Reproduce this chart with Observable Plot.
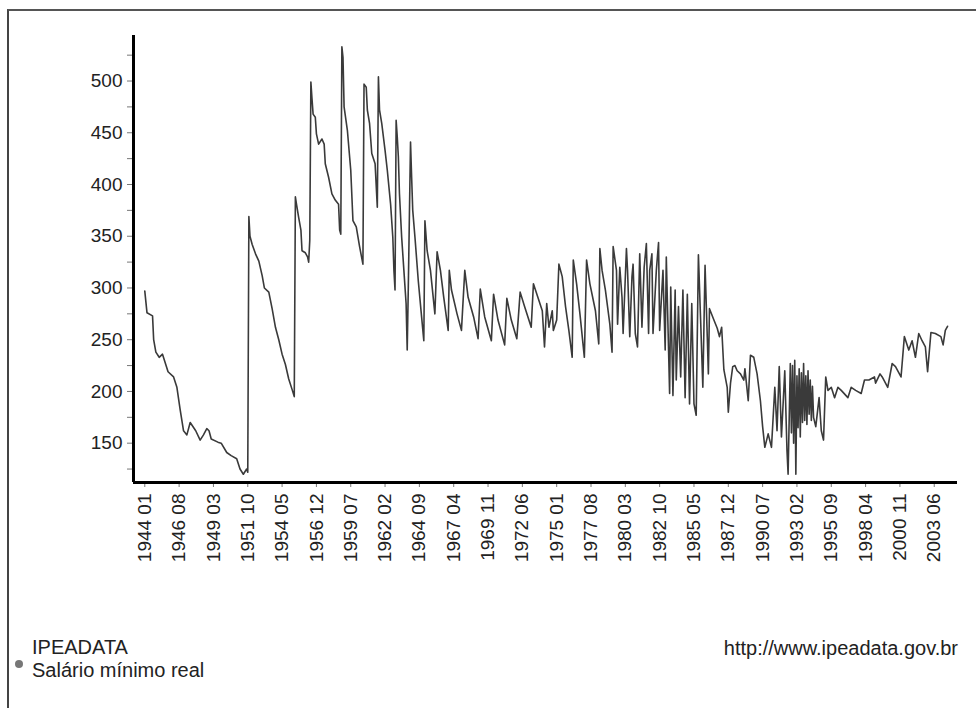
<!DOCTYPE html>
<html>
<head>
<meta charset="utf-8">
<script src="https://cdn.jsdelivr.net/npm/d3@7"></script>
<script src="https://cdn.jsdelivr.net/npm/@observablehq/plot@0.6"></script>
<style>
  body { margin: 0; background: #fff; font-family: "Liberation Sans", Arial, sans-serif; }
  #wrap { position: relative; width: 976px; height: 708px; overflow: hidden; background: #fff; }
  #frame { position: absolute; left: 7px; top: 9px; width: 990px; height: 730px;
           border-top: 2px solid #555; border-left: 2px solid #444; pointer-events: none; }
  .t { position: absolute; font-size: 20px; line-height: 20px; color: #222; white-space: nowrap; }
  #dot { position: absolute; left: 15px; top: 660px; width: 8px; height: 8px; border-radius: 50%; background: #777; }
  g[aria-label="x-axis tick"], g[aria-label="y-axis tick"] { stroke: #777; }
</style>
</head>
<body>
<div id="wrap">
  <div id="chart"></div>
  <div id="frame"></div>
  <div class="t" id="src" style="left:32px;top:637px"></div>
  <div id="dot"></div>
  <div class="t" id="series" style="left:32px;top:660px"></div>
  <div class="t" id="url" style="right:18px;top:638px"></div>
</div>
<script>
const sourceName = "IPEADATA";
const seriesName = "Salário mínimo real";
const sourceUrl = "http://www.ipeadata.gov.br";

const tickLabels = ["1944 01","1946 08","1949 03","1951 10","1954 05","1956 12","1959 07","1962 02",
  "1964 09","1967 04","1969 11","1972 06","1975 01","1977 08","1980 03","1982 10","1985 05",
  "1987 12","1990 07","1993 02","1995 09","1998 04","2000 11","2003 06"];
const yTicks = [125,150,175,200,225,250,275,300,325,350,375,400,425,450,475,500,525];
const yLabelled = [150,200,250,300,350,400,450,500];

const dates = [
"1944-01","1944-03","1944-08","1944-09","1944-11","1945-02","1945-05","1945-10","1946-03","1946-06",
"1946-09","1946-12","1947-03","1947-06","1947-11","1948-03","1948-06","1948-09","1948-11","1949-01",
"1949-07","1949-10","1950-03","1950-07","1950-12","1951-03","1951-06","1951-09","1951-10","1951-11",
"1951-12","1952-02","1952-05","1952-08","1952-11","1953-01","1953-05","1953-08","1953-11","1954-02",
"1954-05","1954-08","1954-11","1955-02","1955-04","1955-05","1955-06","1955-08","1955-10","1955-11",
"1956-02","1956-04","1956-05","1956-06","1956-07","1956-08","1956-09","1956-11","1956-12","1957-02",
"1957-05","1957-07","1957-08","1957-11","1958-02","1958-05","1958-08","1958-09","1958-10","1958-11",
"1958-12","1959-01","1959-04","1959-07","1959-09","1959-12","1960-03","1960-06","1960-07","1960-09",
"1960-10","1960-12","1961-02","1961-05","1961-07","1961-08","1961-09","1961-11","1962-02","1962-04",
"1962-07","1962-09","1962-10","1962-11","1962-12","1963-01","1963-02","1963-03","1963-05","1963-07",
"1963-09","1963-10","1963-11","1964-01","1964-02","1964-03","1964-05","1964-08","1964-11","1965-01",
"1965-02","1965-04","1965-07","1965-11","1966-01","1966-04","1966-07","1966-11","1966-12","1967-02",
"1967-07","1967-11","1968-02","1968-05","1968-10","1969-02","1969-04","1969-08","1970-02","1970-04",
"1970-08","1971-02","1971-04","1971-08","1972-01","1972-04","1972-08","1973-02","1973-04","1973-08",
"1973-12","1974-02","1974-04","1974-06","1974-09","1974-10","1975-01","1975-03","1975-06","1975-09",
"1975-12","1976-03","1976-04","1976-07","1976-10","1977-02","1977-04","1977-07","1977-12","1978-03",
"1978-04","1978-06","1978-09","1979-01","1979-03","1979-04","1979-07","1979-08","1979-10","1979-12",
"1980-01","1980-04","1980-05","1980-07","1980-09","1980-10","1980-12","1981-02","1981-04","1981-06",
"1981-08","1981-10","1981-12","1982-01","1982-03","1982-04","1982-07","1982-09","1982-10","1983-01",
"1983-03","1983-04","1983-07","1983-08","1983-10","1983-12","1984-01","1984-03","1984-05","1984-07",
"1984-09","1984-11","1985-01","1985-03","1985-05","1985-07","1985-09","1985-11","1986-01","1986-03",
"1986-05","1986-06","1986-07","1986-11","1987-02","1987-04","1987-06","1987-08","1987-11","1987-12",
"1988-02","1988-04","1988-06","1988-08","1988-11","1989-02","1989-03","1989-06","1989-08","1989-11",
"1990-02","1990-05","1990-07","1990-09","1990-12","1991-03","1991-06","1991-08","1991-10","1991-12",
"1992-03","1992-05","1992-06","1992-08","1992-09","1992-10","1992-11","1992-12","1993-01","1993-02",
"1993-03","1993-04","1993-05","1993-06","1993-07","1993-08","1993-09","1993-10","1993-11","1993-12",
"1994-01","1994-02","1994-03","1994-04","1994-05","1994-07","1994-10","1994-12","1995-02","1995-04",
"1995-06","1995-09","1995-12","1996-03","1996-06","1996-12","1997-03","1997-07","1997-12","1998-03",
"1998-07","1998-12","1999-01","1999-05","1999-07","1999-12","2000-04","2000-07","2000-12","2001-03",
"2001-07","2001-10","2002-01","2002-04","2002-07","2002-10","2002-12","2003-03","2003-07","2003-12",
"2004-02","2004-04","2004-06"];

const values = [
297,276,273,250,238,233,236,219,214,204,
182,162,158,170,162,153,158,164,162,154,
151,150,141,138,135,125,120,125,122,369,
350,342,333,326,312,300,296,280,262,250,
236,226,212,202,195,388,381,368,356,336,
334,330,325,346,499,483,468,465,449,439,
444,439,420,407,391,385,381,356,352,533,
523,475,452,414,365,359,340,323,497,494,
472,459,430,420,378,504,472,459,433,414,
381,349,317,298,462,446,427,391,349,317,
285,240,301,441,407,375,349,307,272,249,
365,336,317,275,335,317,291,259,317,298,
275,259,317,291,272,251,299,272,249,294,
269,245,290,269,251,296,282,262,304,291,
278,243,285,262,278,259,269,323,311,282,
259,233,327,304,275,233,327,304,278,246,
338,317,298,265,238,340,317,265,320,291,
256,338,317,253,311,323,256,243,333,262,
320,343,256,317,333,256,317,344,259,317,
240,330,198,301,196,298,211,282,214,298,
194,294,188,285,188,177,332,269,204,322,
253,217,280,269,261,253,262,221,204,180,
208,224,225,220,217,211,222,191,235,233,
217,191,166,146,159,146,204,162,224,156,
220,143,120,227,160,225,150,230,120,215,
165,222,156,218,170,227,172,215,168,220,
178,211,172,205,175,166,194,162,153,214,
201,204,194,204,201,194,204,201,198,211,
211,214,208,217,214,204,227,224,214,253,
240,249,233,256,249,243,219,257,256,253,
245,259,263];

const toIdx = s => { const p = s.split(/[- ]/).map(Number); return (p[0] - 1944) * 12 + (p[1] - 1); };
const data = dates.map((d, i) => ({ t: toIdx(d), v: values[i] }));
const tickPos = tickLabels.map(toIdx);
const xDomain = [-10.2, 734];
const yDomain = [112, 544];

const chart = Plot.plot({
  width: 976,
  height: 620,
  marginLeft: 133,
  marginRight: 19,
  marginTop: 35,
  marginBottom: 138,
  style: { fontSize: "19px", fontFamily: "'Liberation Sans', Arial, sans-serif", color: "#222", background: "transparent", overflow: "visible" },
  x: { type: "linear", domain: xDomain, ticks: tickPos, tickFormat: t => tickLabels[tickPos.indexOf(t)],
       tickRotate: -90, tickSize: 5, tickPadding: 6, label: null },
  y: { type: "linear", domain: yDomain, ticks: yTicks, tickFormat: d => yLabelled.includes(d) ? String(d) : "",
       tickSize: 6, tickPadding: 5, label: null },
  marks: [
    Plot.line(data, { x: "t", y: "v", stroke: "#3a3a3a", strokeWidth: 1.6 }),
    Plot.ruleX([xDomain[0]], { stroke: "#000", strokeWidth: 3 }),
    Plot.ruleY([yDomain[0]], { stroke: "#000", strokeWidth: 3 })
  ]
});
document.getElementById("chart").appendChild(chart);
document.getElementById("src").textContent = sourceName;
document.getElementById("series").textContent = seriesName;
document.getElementById("url").textContent = sourceUrl;
</script>
</body>
</html>
